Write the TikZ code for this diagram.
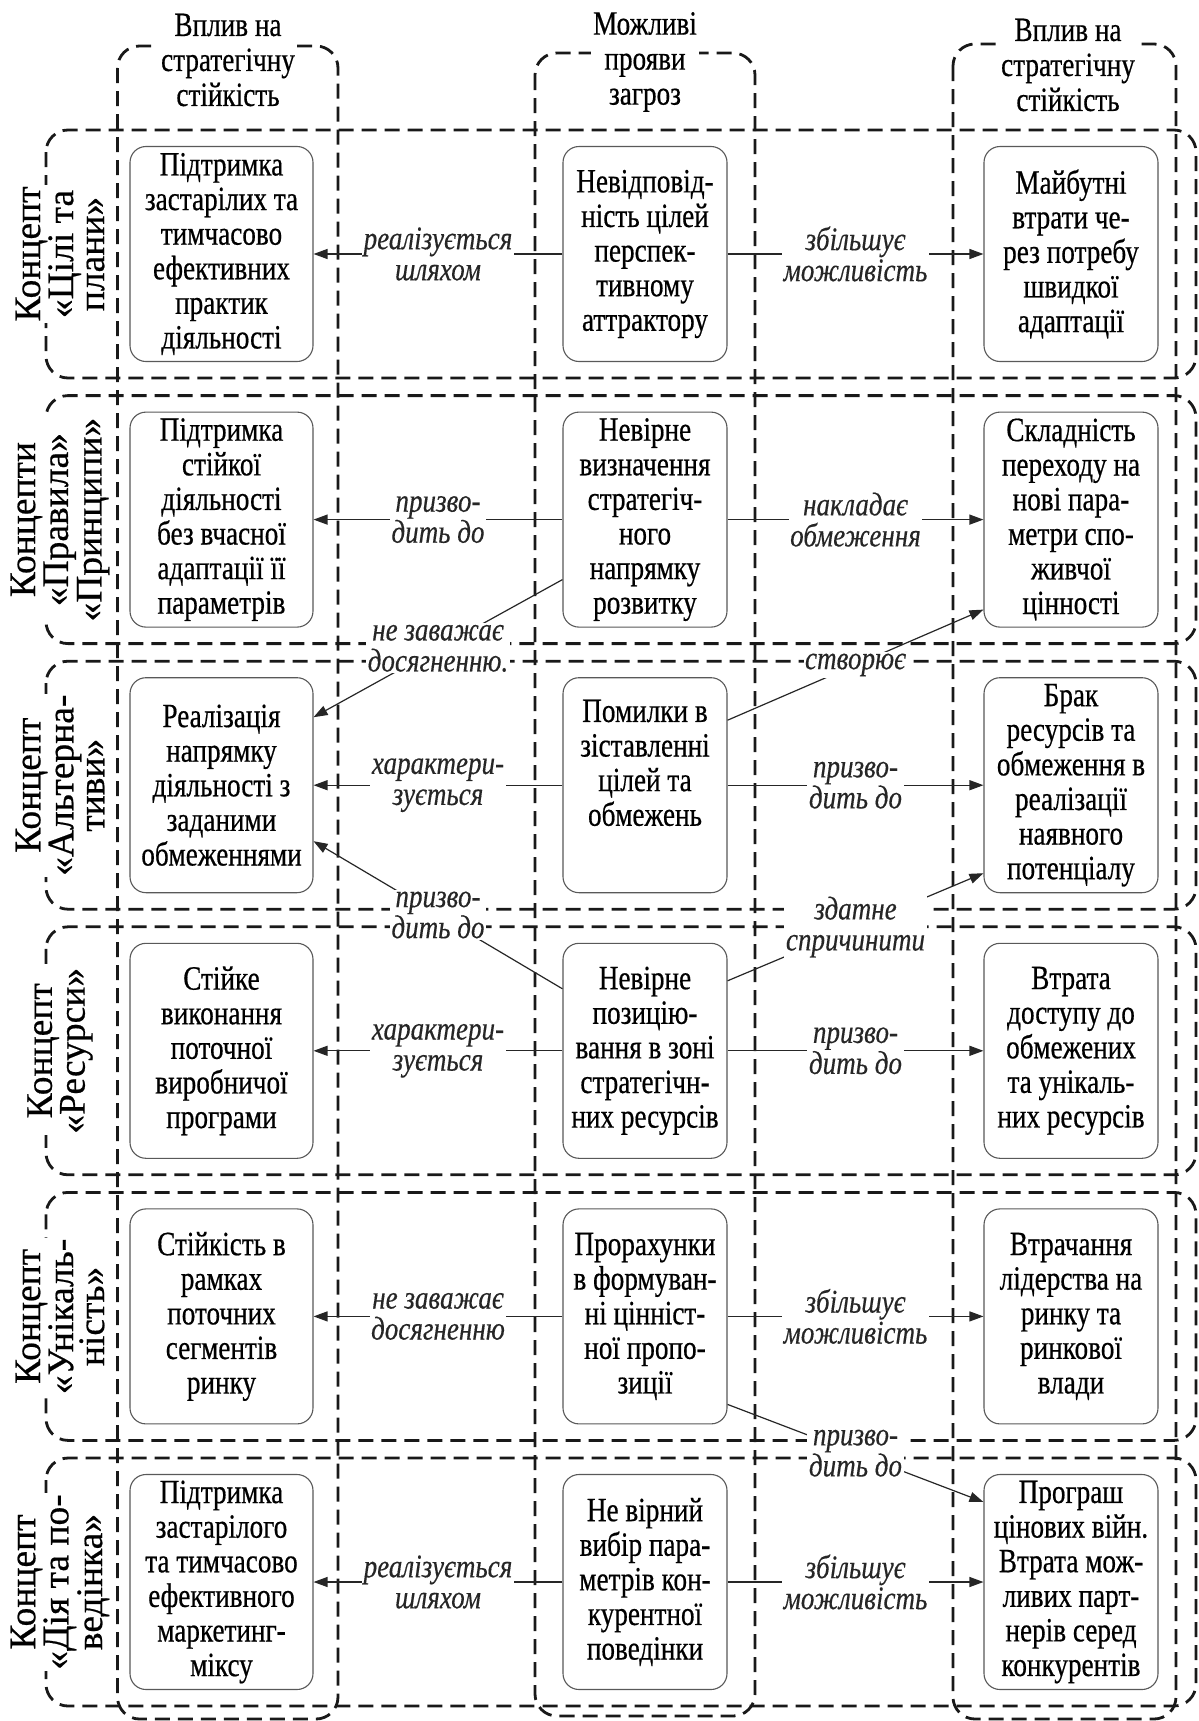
\documentclass[tikz,border=0pt]{standalone}
\usepackage{fontspec}
\setmainfont{Liberation Serif}
\newfontfamily\bxf[FakeStretch=0.8,FakeBold=0.5]{Liberation Serif}
\newfontfamily\itf[FakeStretch=0.82,FakeBold=0.3]{Liberation Serif}
\newfontfamily\rlf[FakeBold=0.5]{Liberation Serif}
\usetikzlibrary{arrows.meta,calc}
\begin{document}
\begin{tikzpicture}[x=1pt,y=-1pt,
  dbox/.style={draw=black!90, line width=2.8pt, dash pattern=on 15pt off 8pt, rounded corners=22pt},
  nb/.style={draw=black!65, line width=1.1pt, rounded corners=16pt, fill=white, align=center,
    minimum height=215pt, inner xsep=2pt, inner ysep=0pt, font=\bxf\fontsize{34}{34.6}\selectfont},
  lc/.style={nb, minimum width=183pt},
  mc/.style={nb, minimum width=164pt},
  rc/.style={nb, minimum width=174pt},
  rl/.style={rotate=90, fill=white, align=center, inner sep=1pt, font=\rlf\fontsize{37.5}{31}\selectfont},
  hd/.style={fill=white, align=center, inner sep=2pt, font=\bxf\fontsize{34}{35}\selectfont},
  ar/.style={draw=black!85, line width=1.2pt, -{Triangle[length=14pt,width=10pt]}},
  lb/.style={fill=white, align=center, inner sep=1.5pt, text=black!85, font=\itf\itshape\fontsize{33}{31}\selectfont}
]
\useasboundingbox (0,0) rectangle (1199,1721);
\fill[white] (0,0) rectangle (1199,1721);

% column frames
\draw[dbox] (117.5,46) rectangle (338,1719);
\draw[dbox] (535,53) rectangle (755,1716);
\draw[dbox] (953,44) rectangle (1176,1719);
% row frames
\foreach \t in {130,395.6,661.2,926.8,1192.4,1458.0}{
  \draw[dbox] (46,\t) rectangle (1196,\t+248);
}

% headers
\node[hd] (h1) at (228,60) {Вплив на\\стратегічну\\стійкість};
\node[hd] (h2) at (645,62) {Можливі\\прояви\\загроз};
\node[hd] (h3) at (1068,65) {Вплив на\\стратегічну\\стійкість};

% row labels
\node[rl] (c1) at (60,254) {Концепт\\«Цілі та\\плани»};
\node[rl] (c2) at (60,519.6) {Концепти\\«Правила»\\«Принципи»};
\node[rl] (c3) at (60,785.2) {Концепт\\«Альтерна-\\тиви»};
\node[rl] (c4) at (60,1050.8) {Концепт\\«Ресурси»};
\node[rl] (c5) at (60,1316.4) {Концепт\\«Унікаль-\\ність»};
\node[rl] (c6) at (60,1582) {Концепт\\«Дія та по-\\ведінка»};

% row 1
\node[lc] (l1) at (221.5,254) {Підтримка\\застарілих та\\тимчасово\\ефективних\\практик\\діяльності};
\node[mc] (m1) at (645,254) {Невідповід-\\ність цілей\\перспек-\\тивному\\аттрактору};
\node[rc] (r1) at (1071,254) {Майбутні\\втрати че-\\рез потребу\\швидкої\\адаптації};
% row 2
\node[lc] (l2) at (221.5,519.6) {Підтримка\\стійкої\\діяльності\\без вчасної\\адаптації її\\параметрів};
\node[mc] (m2) at (645,519.6) {Невірне\\визначення\\стратегіч-\\ного\\напрямку\\розвитку};
\node[rc] (r2) at (1071,519.6) {Складність\\переходу на\\нові пара-\\метри спо-\\живчої\\цінності};
% row 3
\node[lc] (l3) at (221.5,785.2) {Реалізація\\напрямку\\діяльності з\\заданими\\обмеженнями};
\node[mc] (m3) at (645,785.2) {Помилки в\\зіставленні\\цілей та\\обмежень\\\strut};
\node[rc] (r3) at (1071,785.2) {Брак\\ресурсів та\\обмеження в\\реалізації\\наявного\\потенціалу};
% row 4
\node[lc] (l4) at (221.5,1050.8) {Стійке\\виконання\\поточної\\виробничої\\програми};
\node[mc] (m4) at (645,1050.8) {Невірне\\позицію-\\вання в зоні\\стратегічн-\\них ресурсів};
\node[rc] (r4) at (1071,1050.8) {Втрата\\доступу до\\обмежених\\та унікаль-\\них ресурсів};
% row 5
\node[lc] (l5) at (221.5,1316.4) {Стійкість в\\рамках\\поточних\\сегментів\\ринку};
\node[mc] (m5) at (645,1316.4) {Прорахунки\\в формуван-\\ні цінніст-\\ної пропо-\\зиції};
\node[rc] (r5) at (1071,1316.4) {Втрачання\\лідерства на\\ринку та\\ринкової\\влади};
% row 6
\node[lc] (l6) at (221.5,1582) {Підтримка\\застарілого\\та тимчасово\\ефективного\\маркетинг-\\міксу};
\node[mc] (m6) at (645,1582) {Не вірний\\вибір пара-\\метрів кон-\\курентної\\поведінки};
\node[rc] (r6) at (1071,1582) {Програш\\цінових війн.\\Втрата мож-\\ливих парт-\\нерів серед\\конкурентів};

% horizontal connectors
\draw[ar] (m1) -- node[lb] {реалізується\\шляхом} (l1);
\draw[ar] (m1) -- node[lb] {збільшує\\можливість} (r1);
\draw[ar] (m2) -- node[lb] {призво-\\дить до} (l2);
\draw[ar] (m2) -- node[lb] {накладає\\обмеження} (r2);
\draw[ar] (m3) -- node[lb] {характери-\\зується} (l3);
\draw[ar] (m3) -- node[lb] {призво-\\дить до} (r3);
\draw[ar] (m4) -- node[lb] {характери-\\зується} (l4);
\draw[ar] (m4) -- node[lb] {призво-\\дить до} (r4);
\draw[ar] (m5) -- node[lb] {не заважає\\досягненню} (l5);
\draw[ar] (m5) -- node[lb] {збільшує\\можливість} (r5);
\draw[ar] (m6) -- node[lb] {реалізується\\шляхом} (l6);
\draw[ar] (m6) -- node[lb] {збільшує\\можливість} (r6);

% diagonal connectors
\draw[ar] ($(m2.west)+(0,60)$) -- node[lb] {не заважає\\досягненню.} ($(l3.east)+(0,-68)$);
\draw[ar] ($(m3.east)+(0,-65)$) -- node[lb] {створює} ($(r2.west)+(0,90)$);
\draw[ar] ($(m4.west)+(0,-62)$) -- node[lb] {призво-\\дить до} ($(l3.east)+(0,56)$);
\draw[ar] ($(m4.east)+(0,-70)$) -- node[lb] {здатне\\спричинити} ($(r3.west)+(0,88)$);
\draw[ar] ($(m5.east)+(0,88)$) -- node[lb] {призво-\\дить до} ($(r6.west)+(0,-80)$);
\end{tikzpicture}
\end{document}
